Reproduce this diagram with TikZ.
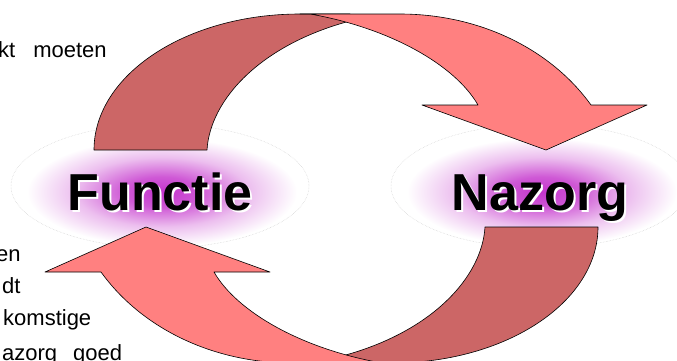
\documentclass[tikz,border=0pt]{standalone}
\usepackage{fontspec}
\setmainfont{Liberation Sans}
\usetikzlibrary{shapes.geometric, positioning}
\definecolor{rosedark}{RGB}{204,102,102}
\definecolor{roselight}{RGB}{255,128,128}
\definecolor{glowpurple}{RGB}{196,52,204}
\pgfdeclareradialshading{glowshade}{\pgfpoint{0bp}{0bp}}{%
  color(0bp)=(glowpurple); color(7bp)=(glowpurple!82!white);
  color(16bp)=(glowpurple!32!white); color(25bp)=(white); color(50bp)=(white)}

\begin{document}
\begin{tikzpicture}[x=1pt, y=-1pt,
    ring/.style={ellipse, draw=gray!35, densely dotted, line width=0.5pt,
      minimum width=298pt, minimum height=124pt, inner sep=0pt},
    halo/.style={ellipse, shade, shading=glowshade, minimum width=270pt,
      minimum height=108pt, inner sep=0pt},
    cycletext/.style={font=\fontsize{52}{60}\selectfont\bfseries, anchor=base, inner sep=0pt},
    backband/.style={draw=black, line width=0.6pt, line join=round, fill=rosedark},
    frontband/.style={backband, fill=roselight},
    sidetext/.style={font=\fontsize{22}{26}\selectfont, anchor=base west, inner sep=0pt}
]
\useasboundingbox (0,0) rectangle (677,360);
\clip (0,0) rectangle (677,360);
\fill[white] (0,0) rectangle (677,360);

% rings and glow behind the two words
\foreach \name/\xc in {Functie/160, Nazorg/540} {
    \node[ring] (ring\name) at (\xc,186) {};
    \node[halo] (halo\name) at (\xc+2,192) {};
}

% the two curved arrows (second one is the first turned round)
\foreach \turn in {0,180} {
  \begin{scope}[rotate around={\turn:(346,188.5)}]
    \draw[backband] (94,150) .. controls (94,75) and (186,14) .. (300,14) -- (350,14)
        -- (350,21) .. controls (260,45) and (210,100) .. (207,150) -- cycle;
    \draw[frontband] (300,14) -- (400,14) .. controls (478,14) and (550,48) .. (591,105)
        -- (647,105) -- (546,150) -- (422,105) -- (478,105)
        .. controls (455,65) and (390,28) .. (310,14) -- cycle;
  \end{scope}
}

% words with white shadow
\foreach \name/\xc in {Functie/160, Nazorg/540} {
    \node[cycletext, text=white] (shadow\name) at (\xc+2,212) {\name};
    \node[cycletext] (word\name) at (\xc,210) {\name};
}

% cut off text at the left
\node[sidetext] (lineone) at (-2,57) {kt\hspace{18pt}moeten};
\node[sidetext] (linetwo) at (-4,261) {en};
\node[sidetext] (linethree) at (2,293) {dt};
\node[sidetext] (linefour) at (3,325) {komstige};
\node[sidetext] (linefive) at (2,360) {azorg\hspace{16pt}goed};

\end{tikzpicture}
\end{document}
